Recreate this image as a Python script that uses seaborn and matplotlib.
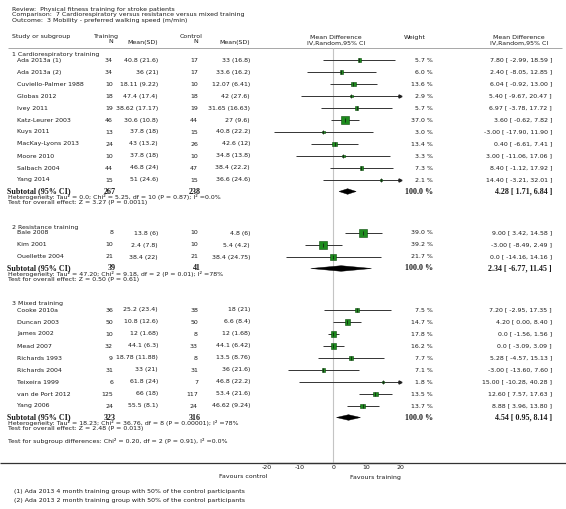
# Importaciones
import numpy as np
import pandas as pd
import matplotlib
matplotlib.use('Agg')
import matplotlib.pyplot as plt
from matplotlib.patches import Polygon
import seaborn as sns

# Datos del forest plot
titulo = ['Review:  Physical fitness training for stroke patients',
          'Comparison:  7 Cardiorespiratory versus resistance versus mixed training',
          'Outcome:  3 Mobility - preferred walking speed (m/min)']

grupos = ['1 Cardiorespiratory training', '2 Resistance training', '3 Mixed training']

estudios = ['Ada 2013a (1)', 'Ada 2013a (2)', 'Cuviello-Palmer 1988', 'Globas 2012', 'Ivey 2011',
            'Katz-Leurer 2003', 'Kuys 2011', 'MacKay-Lyons 2013', 'Moore 2010', 'Salbach 2004',
            'Yang 2014',
            'Bale 2008', 'Kim 2001', 'Ouellette 2004',
            'Cooke 2010a', 'Duncan 2003', 'James 2002', 'Mead 2007', 'Richards 1993',
            'Richards 2004', 'Teixeira 1999', 'van de Port 2012', 'Yang 2006']
grupo_id = [0] * 11 + [1] * 3 + [2] * 9

n_training = [34, 34, 10, 18, 19, 46, 13, 24, 10, 44, 15,
              8, 10, 21,
              36, 50, 10, 32, 9, 31, 6, 125, 24]
msd_training = ['40.8 (21.6)', '36 (21)', '18.11 (9.22)', '47.4 (17.4)', '38.62 (17.17)',
                '30.6 (10.8)', '37.8 (18)', '43 (13.2)', '37.8 (18)', '46.8 (24)', '51 (24.6)',
                '13.8 (6)', '2.4 (7.8)', '38.4 (22)',
                '25.2 (23.4)', '10.8 (12.6)', '12 (1.68)', '44.1 (6.3)', '18.78 (11.88)',
                '33 (21)', '61.8 (24)', '66 (18)', '55.5 (8.1)']
n_control = [17, 17, 10, 18, 19, 44, 15, 26, 10, 47, 15,
             10, 10, 21,
             38, 50, 8, 33, 8, 31, 7, 117, 24]
msd_control = ['33 (16.8)', '33.6 (16.2)', '12.07 (6.41)', '42 (27.6)', '31.65 (16.63)',
               '27 (9.6)', '40.8 (22.2)', '42.6 (12)', '34.8 (13.8)', '38.4 (22.2)', '36.6 (24.6)',
               '4.8 (6)', '5.4 (4.2)', '38.4 (24.75)',
               '18 (21)', '6.6 (8.4)', '12 (1.68)', '44.1 (6.42)', '13.5 (8.76)',
               '36 (21.6)', '46.8 (22.2)', '53.4 (21.6)', '46.62 (9.24)']
pesos = [5.7, 6.0, 13.6, 2.9, 5.7, 37.0, 3.0, 13.4, 3.3, 7.3, 2.1,
         39.0, 39.2, 21.7,
         7.5, 14.7, 17.8, 16.2, 7.7, 7.1, 1.8, 13.5, 13.7]
md = [7.80, 2.40, 6.04, 5.40, 6.97, 3.60, -3.00, 0.40, 3.00, 8.40, 14.40,
      9.00, -3.00, 0.0,
      7.20, 4.20, 0.0, 0.0, 5.28, -3.00, 15.00, 12.60, 8.88]
ci_low = [-2.99, -8.05, -0.92, -9.67, -3.78, -0.62, -17.90, -6.61, -11.06, -1.12, -3.21,
          3.42, -8.49, -14.16,
          -2.95, 0.00, -1.56, -3.09, -4.57, -13.60, -10.28, 7.57, 3.96]
ci_high = [18.59, 12.85, 13.00, 20.47, 17.72, 7.82, 11.90, 7.41, 17.06, 17.92, 32.01,
           14.58, 2.49, 14.16,
           17.35, 8.40, 1.56, 3.09, 15.13, 7.60, 40.28, 17.63, 13.80]

sub_n_training = [267, 39, 323]
sub_n_control = [238, 41, 316]
sub_md = [4.28, 2.34, 4.54]
sub_low = [1.71, -6.77, 0.95]
sub_high = [6.84, 11.45, 8.14]
heterogeneidad = ['Heterogeneity: Tau\u00b2 = 0.0; Chi\u00b2 = 5.25, df = 10 (P = 0.87); I\u00b2 =0.0%',
                  'Heterogeneity: Tau\u00b2 = 47.20; Chi\u00b2 = 9.18, df = 2 (P = 0.01); I\u00b2 =78%',
                  'Heterogeneity: Tau\u00b2 = 18.23; Chi\u00b2 = 36.76, df = 8 (P = 0.00001); I\u00b2 =78%']
efecto_total = ['Test for overall effect: Z = 3.27 (P = 0.0011)',
                'Test for overall effect: Z = 0.50 (P = 0.61)',
                'Test for overall effect: Z = 2.48 (P = 0.013)']
test_subgrupos = 'Test for subgroup differences: Chi\u00b2 = 0.20, df = 2 (P = 0.91), I\u00b2 =0.0%'
ticks_x = [-20, -10, 0, 10, 20]
notas = ['(1) Ada 2013 4 month training group with 50% of the control participants',
         '(2) Ada 2013 2 month training group with 50% of the control participants']

# Estilo
sns.set_style('white')
plt.rcParams['font.family'] = ['DejaVu Sans']
TXT = '#1a1a1a'
FS = 4.5
FB = dict(family='Liberation Serif', fontweight='bold', fontsize=5.8, color=TXT)

# Columnas (pixeles)
X_NT, X_MT, X_NC, X_MC = 113, 158, 198, 250
X_W, X_MD = 433, 552

# Posiciones verticales de cada fila (en pixeles)
filas = []
y = 54
pos_grupo, pos_sub, pos_het, pos_test = [], [], [], []
for g in range(len(grupos)):
    pos_grupo.append(y)
    y += 6
    for i, gid in enumerate(grupo_id):
        if gid == g:
            filas.append(y)
            y += 12
    pos_sub.append(y - 0.5)
    pos_het.append(y + 5)
    pos_test.append(y + 10.5)
    y = y + 35
y_test_sub = pos_test[-1] + 12.5
y_eje = 463

df = pd.DataFrame({'estudio': estudios, 'grupo': grupo_id, 'peso': pesos, 'md': md,
                   'lo': ci_low, 'hi': ci_high, 'y': filas})

fig = plt.figure(figsize=(5.66, 5.09), dpi=100)
ax = fig.add_axes([0, 0, 1, 1])
ax.set_xlim(0, 566)
ax.set_ylim(509, 0)
ax.axis('off')

# Eje del forest plot: -20..20 entre x=266.7 y x=400
x0, x1 = 266.67, 400.0
ax_f = fig.add_axes([x0 / 566, 0, (x1 - x0) / 566, 1])
ax_f.set_xlim(ticks_x[0], ticks_x[-1])
ax_f.set_ylim(509, 0)
ax_f.patch.set_alpha(0)
for s in ['top', 'left', 'right']:
    ax_f.spines[s].set_visible(False)
ax_f.spines['bottom'].set_position(('data', y_eje))
ax_f.spines['bottom'].set_color('#333333')
ax_f.spines['bottom'].set_linewidth(0.9)
ax_f.set_yticks([])
ax_f.set_xticks(ticks_x)
ax_f.set_xticklabels([str(t) for t in ticks_x])
ax_f.tick_params(axis='x', direction='in', length=2, width=0.6, labelsize=FS, pad=1.5,
                 colors=TXT)

# Titulo
for i, t in enumerate(titulo):
    ax.text(12, 9 + 5.5 * i, t, fontsize=FS, color=TXT, va='center')

# Encabezados
ax.text(12, 36, 'Study or subgroup', fontsize=FS, color=TXT, va='center')
ax.text(119, 36, 'Training', fontsize=FS, color=TXT, va='center', ha='right')
ax.text(X_NT, 41, 'N', fontsize=FS, color=TXT, va='center', ha='right')
ax.text(X_MT, 42.5, 'Mean(SD)', fontsize=FS, color=TXT, va='center', ha='right')
ax.text(202, 36, 'Control', fontsize=FS, color=TXT, va='center', ha='right')
ax.text(X_NC, 41, 'N', fontsize=FS, color=TXT, va='center', ha='right')
ax.text(X_MC, 42.5, 'Mean(SD)', fontsize=FS, color=TXT, va='center', ha='right')
ax.text(336, 37.5, 'Mean Difference', fontsize=FS, color=TXT, va='center', ha='center')
ax.text(336, 43, 'IV,Random,95% CI', fontsize=FS, color=TXT, va='center', ha='center')
ax.text(404, 37.5, 'Weight', fontsize=FS, color=TXT, va='center')
ax.text(519, 37.5, 'Mean Difference', fontsize=FS, color=TXT, va='center', ha='center')
ax.text(519, 43, 'IV,Random,95% CI', fontsize=FS, color=TXT, va='center', ha='center')
ax.hlines(48, 8, 562, color='#999999', lw=0.6)

def fmt_md(v):
    return '0.0' if v == 0 else f'{v:.2f}'

# Filas de estudios
for i, r in df.iterrows():
    yy = r['y']
    ax.text(17, yy, r['estudio'], fontsize=FS, color=TXT, va='center')
    ax.text(X_NT, yy, str(n_training[i]), fontsize=FS, color=TXT, va='center', ha='right')
    ax.text(X_MT, yy, msd_training[i], fontsize=FS, color=TXT, va='center', ha='right')
    ax.text(X_NC, yy, str(n_control[i]), fontsize=FS, color=TXT, va='center', ha='right')
    ax.text(X_MC, yy, msd_control[i], fontsize=FS, color=TXT, va='center', ha='right')
    ax.text(X_W, yy, f"{r['peso']:.1f} %", fontsize=FS, color=TXT, va='center', ha='right')
    ax.text(X_MD, yy, f"{fmt_md(r['md'])} [ {r['lo']:.2f}, {r['hi']:.2f} ]", fontsize=FS,
            color=TXT, va='center', ha='right')

# Subgrupos
for g in range(len(grupos)):
    ax.text(12, pos_grupo[g], grupos[g], fontsize=FS, color=TXT, va='center')
    ax.text(7, pos_sub[g], 'Subtotal (95% CI)', va='center', **FB)
    ax.text(X_NT + 3, pos_sub[g], str(sub_n_training[g]), va='center', ha='right', **FB)
    ax.text(X_NC + 3, pos_sub[g], str(sub_n_control[g]), va='center', ha='right', **FB)
    ax.text(X_W, pos_sub[g], '100.0 %', va='center', ha='right', **FB)
    ax.text(X_MD, pos_sub[g], f'{sub_md[g]:.2f} [ {sub_low[g]:.2f}, {sub_high[g]:.2f} ]',
            va='center', ha='right', **FB)
    ax.text(8, pos_het[g], heterogeneidad[g], fontsize=FS, color=TXT, va='center')
    ax.text(8, pos_test[g], efecto_total[g], fontsize=FS, color=TXT, va='center')
ax.text(8, y_test_sub, test_subgrupos, fontsize=FS, color=TXT, va='center')

# Linea de no efecto
ax_f.vlines(0, 48, y_eje, color='#c4c4c4', lw=0.8, zorder=1)

# Intervalos de confianza
xmin, xmax = ax_f.get_xlim()
ax_f.hlines(df['y'], df['lo'].clip(xmin, xmax), df['hi'].clip(xmin, xmax),
            color='#333333', lw=0.7, zorder=2)
flechas = df[df['hi'] > xmax]
ax_f.plot([xmax] * len(flechas), flechas['y'], ls='none', marker='>', ms=2.2,
          color='#222222', zorder=2, clip_on=False)

# Cuadrados (tamaño segun peso)
sns.scatterplot(data=df, x='md', y='y', size='peso', sizes=(0.3, 36), size_norm=(0, 40),
                marker='s', color='#1d8c1d', edgecolor='#0b4a0b', linewidth=0.4,
                legend=False, ax=ax_f, zorder=3)
ax_f.vlines(df['md'], df['y'] - 2, df['y'] + 2, color='#111111', lw=0.5, zorder=4)
ax_f.set_xlabel('')
ax_f.set_ylabel('')
ax_f.set_xlim(xmin, xmax)
ax_f.set_ylim(509, 0)

# Diamantes de los subtotales
for g in range(len(grupos)):
    yy = pos_sub[g]
    pts = [(sub_low[g], yy), (sub_md[g], yy - 2.8), (sub_high[g], yy), (sub_md[g], yy + 2.8)]
    ax_f.add_patch(Polygon(pts, closed=True, facecolor='black', edgecolor='black', lw=0.3,
                           zorder=3))

# Eje horizontal completo y etiquetas
ax.hlines(y_eje, 0, 566, color='#333333', lw=0.9)
ax.text(267, 477, 'Favours control', fontsize=FS, color=TXT, va='center', ha='right')
ax.text(350, 477, 'Favours training', fontsize=FS, color=TXT, va='center', ha='left')

# Notas al pie
for i, n in enumerate(notas):
    ax.text(14, 491 + 9.5 * i, n, fontsize=FS, color=TXT, va='center')

fig.savefig('out.png', dpi=100)
